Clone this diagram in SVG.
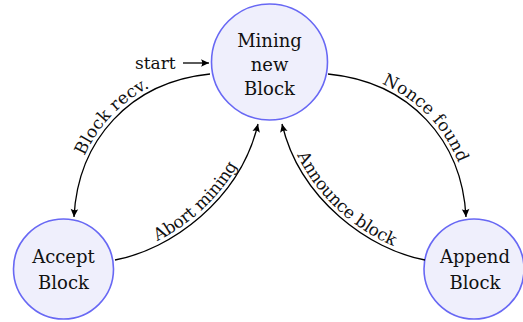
<svg xmlns="http://www.w3.org/2000/svg" width="523" height="322" viewBox="0 0 523 322">
<style>
.node circle{fill:#efeffc;stroke:#6868f4;stroke-width:1.6}
text{font-family:"DejaVu Serif","Liberation Serif",serif;font-size:17px;fill:#111}
.node text{text-anchor:middle;font-size:18px}
.edge{fill:none;stroke:#000;stroke-width:1.3}
</style>
<defs>
<marker id="arr" markerUnits="userSpaceOnUse" markerWidth="12" markerHeight="12" refX="0" refY="0" viewBox="-9 -6 12 12" orient="auto">
<path d="M0,0 L-8,-3.8 Q-5.5,0 -8,3.8 Z" fill="#000"/>
</marker>
<path id="p1" d="M74,217 C78,140 130,82 210,74"/>
<path id="p2" d="M115,260 C170,250 240,200 258,124"/>
<path id="p3" d="M328,74 C410,82 462,140 466,217"/>
<path id="p4" d="M282,124 C300,200 370,250 425,260"/>
</defs>
<g id="n-mining" class="node">
<circle cx="269.5" cy="62" r="58"/>
<text x="269.5" y="47">Mining</text>
<text x="269.5" y="71">new</text>
<text x="269.5" y="95">Block</text>
</g>
<g id="n-accept" class="node">
<circle cx="63.5" cy="269" r="50"/>
<text x="63.5" y="263">Accept</text>
<text x="63.5" y="289">Block</text>
</g>
<g id="n-append" class="node">
<circle cx="474" cy="269" r="50"/>
<text x="475" y="263">Append</text>
<text x="475" y="289">Block</text>
</g>
<g id="edges">
<path class="edge" d="M183,63 L209,63" marker-end="url(#arr)"/>
<text x="135" y="69">start</text>
<path class="edge" d="M210,74 C130,82 78,140 74,217" marker-end="url(#arr)"/>
<path class="edge" d="M115,260 C170,250 240,200 258,124" marker-end="url(#arr)"/>
<path class="edge" d="M328,74 C410,82 462,140 466,217" marker-end="url(#arr)"/>
<path class="edge" d="M425,260 C370,250 300,200 282,124" marker-end="url(#arr)"/>
<text dy="-4"><textPath href="#p1" startOffset="50%" text-anchor="middle">Block recv.</textPath></text>
<text dy="-4"><textPath href="#p2" startOffset="50%" text-anchor="middle">Abort mining</textPath></text>
<text dy="-4"><textPath href="#p3" startOffset="50%" text-anchor="middle">Nonce found</textPath></text>
<text dy="-4"><textPath href="#p4" startOffset="50%" text-anchor="middle">Announce block</textPath></text>
</g>
</svg>
